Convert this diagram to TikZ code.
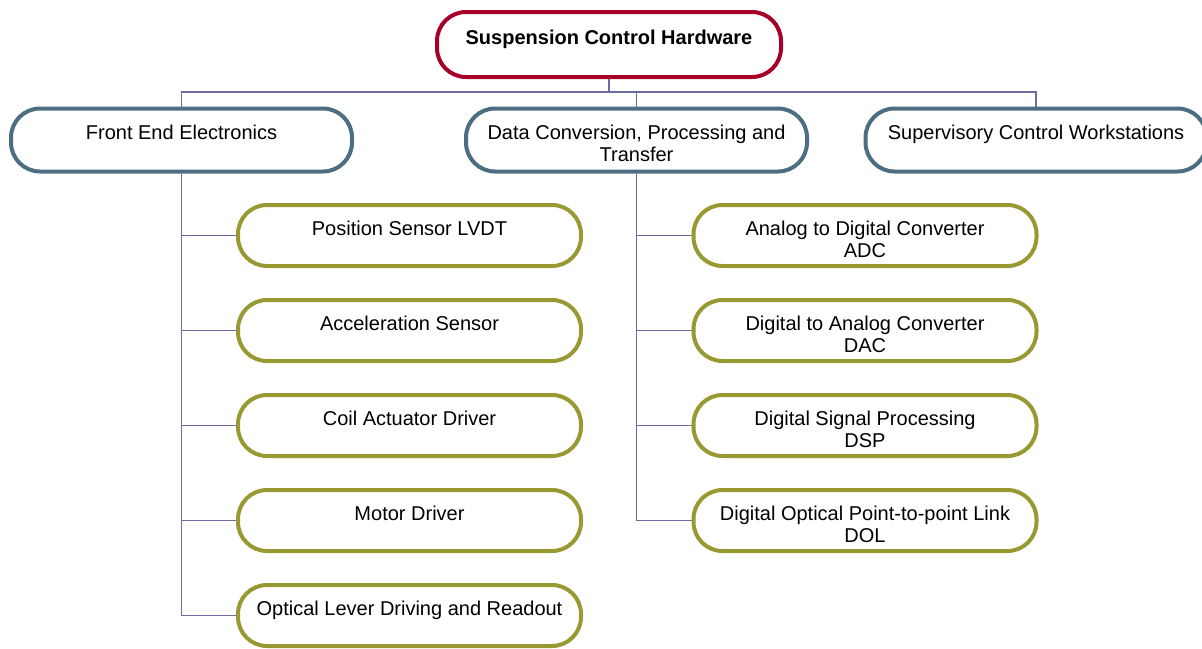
\documentclass[tikz,border=0pt]{standalone}
\usepackage{fontspec}
\setmainfont{Liberation Sans}
\usetikzlibrary{backgrounds}
\definecolor{rootred}{rgb}{0.65,0.0,0.16}
\definecolor{groupblue}{rgb}{0.30,0.43,0.51}
\definecolor{itemolive}{rgb}{0.60,0.60,0.20}
\definecolor{linkblue}{rgb}{0.42,0.42,0.65}
\tikzset{
  hw box/.style={draw, line width=4pt, fill=white, rounded corners=29pt,
    inner sep=0pt, font={\fontsize{20}{22}\selectfont}},
  root/.style={hw box, draw=rootred, minimum width=344pt, minimum height=65pt,
    font={\fontsize{20}{22}\selectfont\bfseries}},
  group/.style={hw box, draw=groupblue, minimum width=341pt, minimum height=63pt},
  item/.style={hw box, draw=itemolive, minimum width=343pt, minimum height=61pt},
  link/.style={draw=linkblue, line width=1.8pt},
}
\newcommand{\boxlabel}[1]{\parbox[c][29pt][t]{330pt}{\centering #1}}
\begin{document}
\begin{tikzpicture}[x=1pt,y=-1pt]
    \useasboundingbox (0,0) rectangle (1202,648);

    \node [root] (hw) at (609,44.5) {\boxlabel{Suspension Control Hardware}};

    \node [group] (fee) at (181.5,140) {\boxlabel{Front End Electronics}};
    \node [group] (dcpt) at (636.5,140) {\boxlabel{Data Conversion, Processing and\\Transfer}};
    \node [group] (scw) at (1036,140) {\boxlabel{Supervisory Control Workstations}};

    \node [item] (lvdt) at (409.5,235.5) {\boxlabel{Position Sensor LVDT}};
    \node [item] (accel) at (409.5,330.5) {\boxlabel{Acceleration Sensor}};
    \node [item] (coil) at (409.5,425.5) {\boxlabel{Coil Actuator Driver}};
    \node [item] (motor) at (409.5,520.5) {\boxlabel{Motor Driver}};
    \node [item] (oplev) at (409.5,615.5) {\boxlabel{Optical Lever Driving and Readout}};

    \node [item] (adc) at (865,235.5) {\boxlabel{Analog to Digital Converter\\ADC}};
    \node [item] (dac) at (865,330.5) {\boxlabel{Digital to Analog Converter\\DAC}};
    \node [item] (dsp) at (865,425.5) {\boxlabel{Digital Signal Processing\\DSP}};
    \node [item] (dol) at (865,520.5) {\boxlabel{Digital Optical Point-to-point Link\\DOL}};

    \begin{scope}[on background layer]
      \draw [link] (hw.south) -- ++(0,13) coordinate (bus) -| (fee.north);
      \draw [link] (bus) -| (dcpt.north);
      \draw [link] (bus) -| (scw.north);
      \foreach \child in {lvdt,accel,coil,motor,oplev}
        \draw [link] (fee.south) |- (\child.west);
      \foreach \child in {adc,dac,dsp,dol}
        \draw [link] (dcpt.south) |- (\child.west);
    \end{scope}

\end{tikzpicture}
\end{document}
